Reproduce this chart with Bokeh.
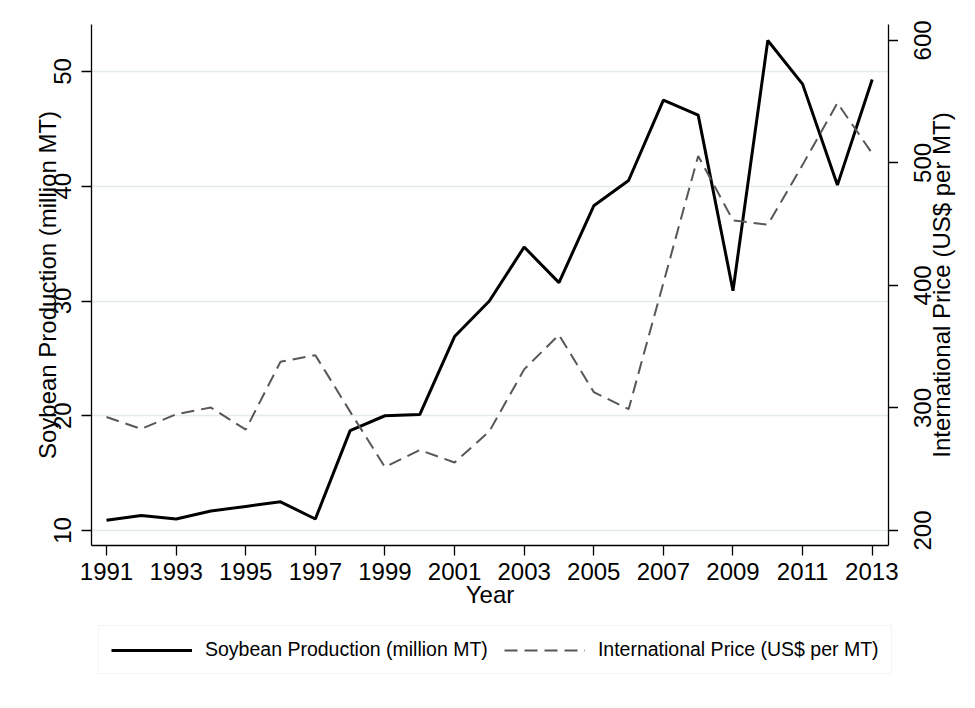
from bokeh.plotting import figure
from bokeh.models import Range1d, LinearAxis, FixedTicker, Legend, LegendItem
from bokeh.layouts import row, column
from bokeh.embed import file_html
from bokeh.resources import INLINE

# ---- data ----
years = [1991, 1992, 1993, 1994, 1995, 1996, 1997, 1998, 1999, 2000, 2001, 2002,
         2003, 2004, 2005, 2006, 2007, 2008, 2009, 2010, 2011, 2012, 2013]
production = [10.9, 11.3, 11.0, 11.7, 12.1, 12.5, 11.0, 18.7, 20.0, 20.1, 26.9, 30.0,
              34.7, 31.6, 38.3, 40.5, 47.5, 46.2, 30.9, 52.7, 48.9, 40.1, 49.3]
price = [292.6, 282.9, 294.9, 300.4, 282.3, 337.8, 343.1, 297.0, 251.7, 265.7, 255.5, 280.9,
         331.5, 359.7, 313.0, 299.0, 402.0, 505.7, 453.1, 449.6, 498.4, 548.9, 507.7]
x_ticks = [1991, 1993, 1995, 1997, 1999, 2001, 2003, 2005, 2007, 2009, 2011, 2013]
left_ticks = [10, 20, 30, 40, 50]
right_ticks = [200, 300, 400, 500, 600]

label_prod = "Soybean Production (million MT)"
label_price = "International Price (US$ per MT)"

FONT = "Liberation Sans"
GRID = "#e3ebee"
PROD_STYLE = dict(line_color="black", line_width=3)
PRICE_STYLE = dict(line_color="#575757", line_width=2, line_dash="13 7")

TOP = 24
PLOT_H = 625        # main plot incl. x axis
BOTTOM = PLOT_H - 545
LEG_H = 67          # legend strip below

x_range = Range1d(1990.569, 2013.468)
prod_range = Range1d(8.693, 54.096)
price_range = Range1d(187.76, 612.96)


def style_axis(ax):
    ax.axis_line_color = "black"
    ax.axis_line_width = 1.3
    ax.major_tick_line_color = "black"
    ax.major_tick_line_width = 1.3
    ax.major_tick_in = 0
    ax.major_tick_out = 10
    ax.minor_tick_line_color = None
    ax.major_label_text_font = FONT
    ax.major_label_text_font_size = "24px"
    ax.major_label_text_color = "black"
    ax.axis_label_text_font = FONT
    ax.axis_label_text_font_size = "24px"
    ax.axis_label_text_font_style = "normal"
    ax.axis_label_text_color = "black"


def blank(fig):
    fig.outline_line_color = None
    fig.background_fill_color = "white"
    fig.border_fill_color = "white"
    fig.frame_align = False


# ---------------- main plot ----------------
p = figure(width=898, height=PLOT_H, output_backend="svg", toolbar_location=None,
           x_range=x_range, y_range=prod_range,
           min_border_left=91, min_border_right=10, min_border_top=TOP,
           min_border_bottom=BOTTOM)
blank(p)
p.extra_y_ranges = {"price": price_range}

p.xgrid.visible = False
p.ygrid.ticker = FixedTicker(ticks=left_ticks)
p.ygrid.grid_line_color = GRID
p.ygrid.grid_line_width = 1.3

p.line(years, production, **PROD_STYLE)
p.line(years, price, y_range_name="price", **PRICE_STYLE)

xaxis = p.xaxis[0]
style_axis(xaxis)
xaxis.ticker = FixedTicker(ticks=x_ticks)
xaxis.axis_label = "Year"
xaxis.major_label_standoff = 7
xaxis.axis_label_standoff = -2

yaxis = p.yaxis[0]
style_axis(yaxis)
yaxis.ticker = FixedTicker(ticks=left_ticks)
yaxis.major_label_orientation = "vertical"
yaxis.major_label_standoff = 10
yaxis.axis_label = label_prod
yaxis.axis_label_standoff = -9

# right axis line + ticks of the price scale (its labels are drawn by the side strip)
raxis = LinearAxis(y_range_name="price", ticker=FixedTicker(ticks=right_ticks))
style_axis(raxis)
raxis.major_label_overrides = {t: "" for t in right_ticks}
raxis.major_label_standoff = 0
p.add_layout(raxis, "right")

# ------------- right-hand strip: price tick labels and title, read bottom-to-top -------------
q = figure(width=61, height=PLOT_H, output_backend="svg", toolbar_location=None,
           x_range=Range1d(0, 1), y_range=price_range, x_axis_location=None,
           min_border_left=56, min_border_right=0, min_border_top=TOP,
           min_border_bottom=BOTTOM)
blank(q)
q.grid.visible = False

title_axis = q.yaxis[0]
style_axis(title_axis)
title_axis.ticker = FixedTicker(ticks=[])
title_axis.axis_line_color = None
title_axis.major_tick_out = 0
title_axis.axis_label = label_price
title_axis.axis_label_standoff = 0

label_axis = LinearAxis(ticker=FixedTicker(ticks=right_ticks))
style_axis(label_axis)
label_axis.axis_line_color = None
label_axis.major_tick_out = 0
label_axis.major_label_orientation = "vertical"
label_axis.major_label_standoff = -7
q.add_layout(label_axis, "left")

# ---------------- legend strip ----------------
lg = figure(width=959, height=LEG_H, output_backend="svg", toolbar_location=None,
            x_range=Range1d(0, 1), y_range=Range1d(0, 1),
            x_axis_location=None, y_axis_location=None,
            min_border_left=0, min_border_right=0, min_border_top=0, min_border_bottom=0)
blank(lg)
lg.grid.visible = False
# same series, far outside this strip's ranges: only their legend samples show
k1 = lg.line(years, production, **PROD_STYLE)
k2 = lg.line(years, price, **PRICE_STYLE)

legend = Legend(items=[LegendItem(label=label_prod, renderers=[k1]),
                       LegendItem(label=label_price, renderers=[k2])],
                orientation="horizontal", location=(98, 18),
                glyph_width=81, glyph_height=20, label_standoff=13, spacing=16,
                padding=12, margin=0,
                label_text_font=FONT, label_text_font_size="19.5px",
                label_text_color="black",
                border_line_color=GRID, border_line_width=1.3,
                background_fill_color="white", background_fill_alpha=1.0)
lg.add_layout(legend)

layout = column(row(p, q), lg)

open("out.html", "w").write(file_html(layout, INLINE, title="Soybean production and price"))
